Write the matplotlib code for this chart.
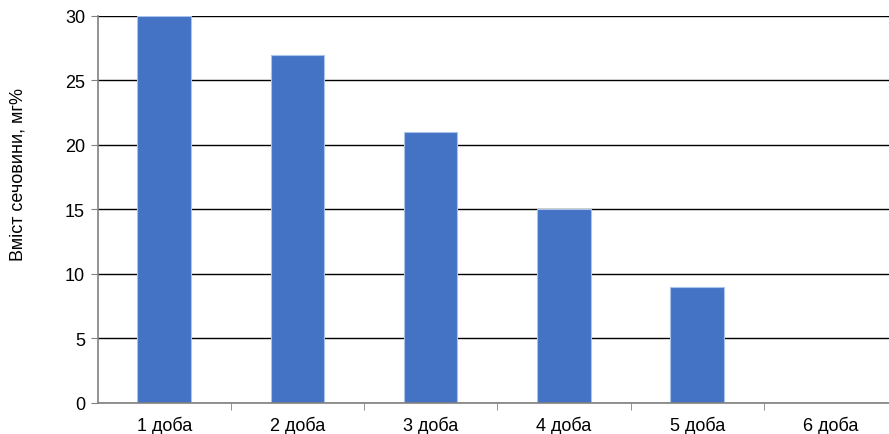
import numpy as np
import matplotlib.pyplot as plt

plt.rcParams['font.family'] = ['Liberation Sans', 'DejaVu Sans']

days = ['1 доба', '2 доба', '3 доба', '4 доба', '5 доба', '6 доба']
urea = [30, 27, 21, 15, 9, 0]

fig = plt.figure(figsize=(8.89, 4.35), dpi=100)
ax = fig.add_axes([0.1097, 0.0713, 0.8993, 0.8897])

x = np.arange(len(days))
ax.bar(x, urea, width=0.4, color='#4472C4', edgecolor='#A9C4EB', linewidth=0.8, zorder=3)

ax.set_xlim(-0.5, len(days) - 0.5)
ax.set_ylim(0, 30)
ax.set_yticks(np.arange(0, 31, 5))
ax.yaxis.grid(True, color='black', linewidth=1, zorder=0)

ax.set_xticks(x)
ax.set_xticklabels(days, fontsize=13)
ax.set_xticks(np.arange(0.5, len(days) - 0.5, 1), minor=True)
ax.tick_params(axis='x', which='major', length=0, pad=9)
ax.tick_params(axis='x', which='minor', length=5, direction='out', color='#808080')
ax.tick_params(axis='y', length=5, direction='out', color='#808080', labelsize=13, pad=4)

for s in ['top', 'right']:
    ax.spines[s].set_visible(False)
for s in ['left', 'bottom']:
    ax.spines[s].set_color('#808080')
    ax.spines[s].set_linewidth(1.2)
    ax.spines[s].set_zorder(4)

ax.set_ylabel('Вміст сечовини, мг%', fontsize=13)
ax.yaxis.set_label_coords(-0.089, 0.594)

fig.savefig('out.png', dpi=100)
